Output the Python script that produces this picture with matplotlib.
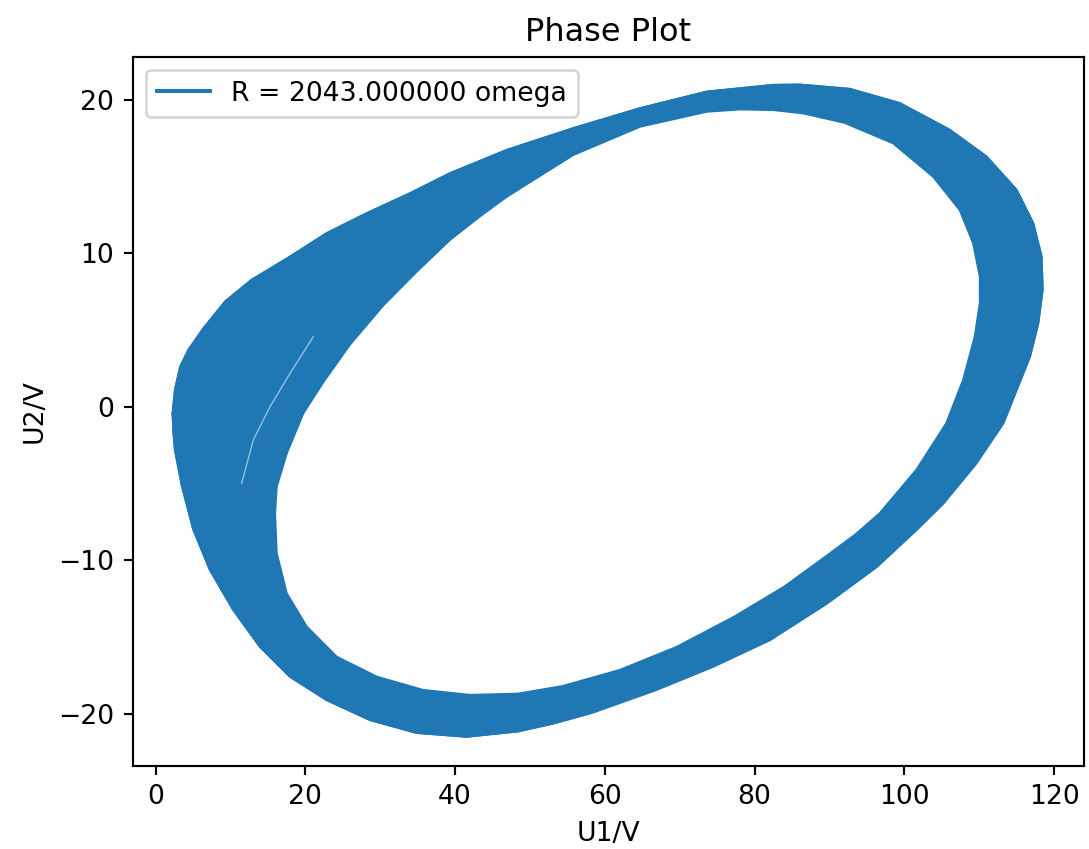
import matplotlib
matplotlib.use("Agg")
import matplotlib.pyplot as plt
from matplotlib.path import Path
from matplotlib.patches import PathPatch

# outer edge of the trajectory band (U1, U2), clockwise
outer_u1 = [2.29, 2.6, 3.3, 4.4, 6.4, 9.3, 12.8, 17.96, 22.86, 28.2, 33.98, 39.3,
            46.9, 55.78, 64.69, 73.6, 82.48, 86.05, 92.72, 99.4, 106.07, 110.97, 114.98,
            117.2, 118.32, 118.45, 117.87, 116.76, 114.98, 113.2, 109.6, 105.2,
            101.6, 96.34, 89.67, 82.04, 74.42, 66.78, 58.2, 53.0, 48.4, 41.55, 34.87,
            28.64, 22.86, 17.96, 13.95, 10.39, 7.28, 5.05, 3.5, 2.6, 2.4]
outer_u2 = [-0.43, 1.09, 2.6, 3.7, 5.1, 6.85, 8.25, 9.77, 11.3, 12.6, 13.9, 15.2,
            16.72, 18.14, 19.44, 20.52, 20.96, 20.98, 20.7, 19.77, 18.03, 16.29, 14.12,
            11.95, 9.77, 7.6, 5.43, 3.26, 1.09, -1.08, -3.69, -6.3,
            -8.03, -10.42, -12.81, -15.2, -16.94, -18.46, -19.95, -20.65, -21.15, -21.5, -21.25,
            -20.41, -19.11, -17.59, -15.64, -13.24, -10.64, -8.0, -5.1, -2.8, -1.7]

# inner edge (the hole), clockwise
inner_u1 = [15.95, 16.18, 17.52, 19.73, 22.4, 25.97, 30.41, 34.87, 39.3, 43.32, 46.9,
            55.78, 64.69, 73.6, 78.04, 82.48, 86.5, 92.0, 98.5, 103.85, 107.4, 109.19,
            110.08, 110.08, 109.4, 107.85, 105.6, 101.6, 96.7, 93.4, 89.67, 83.95,
            77.28, 69.64, 62.02, 54.4, 48.4, 41.99, 35.75, 29.53, 24.19, 20.19, 17.52, 16.18]
inner_u2 = [-6.95, -5.2, -3.04, -0.43, 1.6, 4.05, 6.6, 8.8, 10.86, 12.4, 13.68,
            16.4, 18.24, 19.22, 19.37, 19.33, 19.11, 18.5, 17.16, 14.98, 12.81, 10.64,
            8.47, 6.74, 4.56, 1.74, -1.08, -4.12, -6.95, -8.35, -9.7, -11.73,
            -13.68, -15.64, -17.15, -18.2, -18.7, -18.78, -18.46, -17.59, -16.29, -14.33, -12.16, -9.55]

# faint gap streak inside the band
gap_u1 = [11.5, 13.06, 15.29, 17.96, 21.07]
gap_u2 = [-5.0, -2.17, 0.0, 2.17, 4.56]

label = "R = 2043.000000 omega"

fig = plt.figure(figsize=(1089 / 192, 849 / 192), dpi=192)
ax = fig.add_axes([0.1219, 0.0981, 0.8736, 0.8351])

outer = list(zip(outer_u1, outer_u2))
inner = list(zip(inner_u1, inner_u2))[::-1]
verts = outer + [outer[0]] + inner + [inner[0]]
codes = ([Path.MOVETO] + [Path.LINETO] * (len(outer) - 1) + [Path.CLOSEPOLY]
         + [Path.MOVETO] + [Path.LINETO] * (len(inner) - 1) + [Path.CLOSEPOLY])
ax.add_patch(PathPatch(Path(verts, codes), facecolor="#1f77b4", edgecolor="#1f77b4",
                       lw=0.8, joinstyle="round"))

ax.plot(outer_u1 + [outer_u1[0]], outer_u2 + [outer_u2[0]], color="#1f77b4", lw=0.8,
        solid_joinstyle="round", label=label)
ax.plot(gap_u1, gap_u2, color="#b8d4ee", lw=0.5, alpha=0.8)

ax.set_xlim(-3.04, 124.0)
ax.set_ylim(-23.39, 22.8)
ax.set_title("Phase Plot")
ax.set_xlabel("U1/V")
ax.set_ylabel("U2/V")
leg = ax.legend(loc="upper left")
for h in leg.get_lines():
    h.set_linewidth(1.5)

fig.savefig("out.png", dpi=192)
